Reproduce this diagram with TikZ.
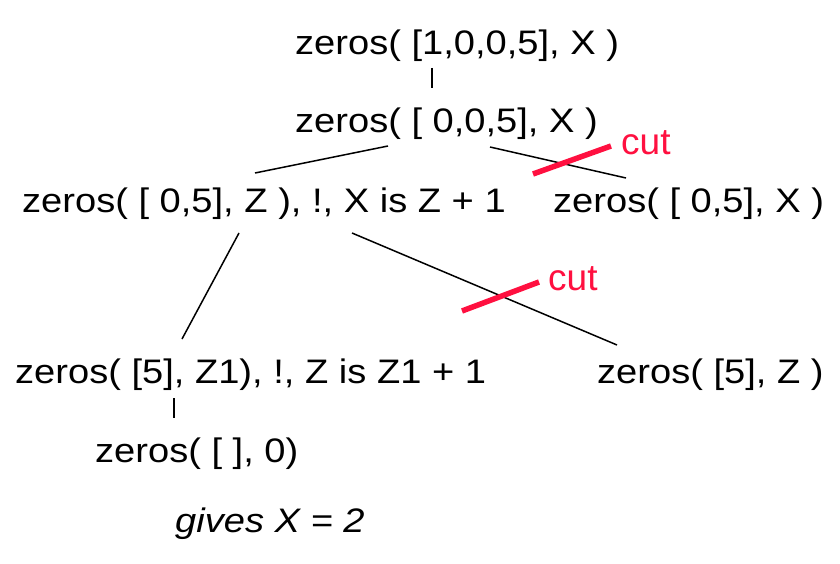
\documentclass[tikz,border=0pt]{standalone}
\usepackage{fontspec}
\setmainfont[FakeStretch=1.12]{Liberation Sans}
\newfontfamily\cutfont{Liberation Sans}
\usetikzlibrary{calc}
\definecolor{cutred}{RGB}{255,16,64}
\begin{document}
\begin{tikzpicture}[x=1pt,y=-1pt,
  term/.style={anchor=base west,inner sep=0pt,font=\fontsize{34}{38}\selectfont},
  cutlabel/.style={anchor=base west,inner sep=0pt,text=cutred,font=\cutfont\fontsize{37}{40}\selectfont},
  edge/.style={line width=1.5pt,black},
  cutmark/.style={line width=5.5pt,cutred}]
\useasboundingbox[fill=white] (0,0) rectangle (840,564);
\node[term] (n1) at (295,55) {zeros( [1,0,0,5], X )};
\node[term] (n2) at (295,133) {zeros( [ 0,0,5], X )};
\node[term] (n3) at (22,212) {zeros( [ 0,5], Z ), !, X is Z + 1};
\node[term] (n4) at (553,212) {zeros( [ 0,5], X )};
\node[term] (n5) at (15,383) {zeros( [5], Z1), !, Z is Z1 + 1};
\node[term] (n6) at (597,383) {zeros( [5], Z )};
\node[term] (n7) at (95,462) {zeros( [ ], 0)};
\node[term] (n8) at (175,532) {\itshape gives X = 2};
\node[cutlabel] (c1) at (621,155) {cut};
\node[cutlabel] (c2) at (548,290) {cut};
\draw[edge] ($(n1.base west)+(137,13)$) -- ($(n2.base west)+(137,-45)$);
\draw[edge] ($(n2.base west)+(93,13)$) -- ($(n3.base west)+(233,-39)$);
\draw[edge] ($(n2.base west)+(195,14)$) -- ($(n4.base west)+(73,-34)$);
\draw[edge] ($(n3.base west)+(217,21)$) -- ($(n5.base west)+(167,-44)$);
\draw[edge] ($(n3.base west)+(330,21)$) -- ($(n6.base west)+(20,-38)$);
\draw[edge] ($(n5.base west)+(159,15)$) -- ($(n7.base west)+(79,-44)$);
\draw[cutmark] ($(c1.base west)+(-88,19)$) -- ($(c1.base west)+(-10,-9)$);
\draw[cutmark] ($(c2.base west)+(-86,21)$) -- ($(c2.base west)+(-9,-8)$);
\end{tikzpicture}
\end{document}
